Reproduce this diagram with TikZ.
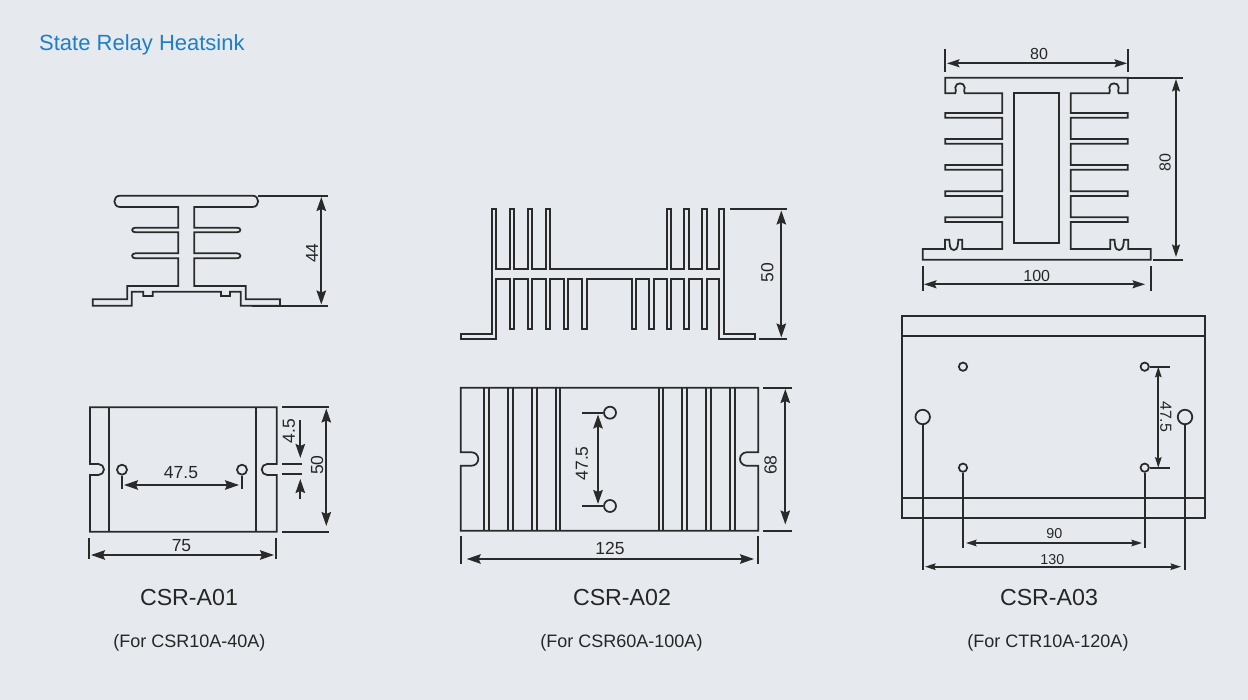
\documentclass[tikz,border=0pt]{standalone}
\usepackage{fontspec}
\setmainfont{Liberation Sans}
\usetikzlibrary{arrows.meta}
\definecolor{bgc}{HTML}{E6EAEE}
\definecolor{ink}{HTML}{2A2A2A}
\definecolor{txt}{HTML}{262626}
\definecolor{titleblue}{HTML}{1F7FC4}
\newcommand{\fsz}[1]{\fontsize{#1}{#1}\selectfont}
\tikzset{
  bighead/.tip={Stealth[length=14pt,width=9.5pt,inset=2pt]},
  midhead/.tip={Stealth[length=12.5pt,width=8pt,inset=2pt]},
  smallhead/.tip={Stealth[length=10.5pt,width=6.5pt,inset=1.5pt]},
  part/.style={draw=ink,line width=1.75pt,line join=miter},
  ext/.style={draw=ink,line width=1.75pt},
  dimline/.style={draw=ink,line width=1.75pt,bighead-bighead},
  dimmid/.style={draw=ink,line width=1.75pt,midhead-midhead},
  dimsmall/.style={draw=ink,line width=1.75pt,smallhead-smallhead},
  oneway/.style={draw=ink,line width=1.75pt,-bighead},
  dimtext/.style={text=txt,inner sep=0pt,font=\fsz{17.5}},
  smalltext/.style={text=txt,inner sep=0pt,font=\fsz{16}},
  tinytext/.style={text=txt,inner sep=0pt,font=\fsz{14.3}},
  model/.style={text=txt,inner sep=0pt,font=\fsz{23.2}},
  forlabel/.style={text=txt,inner sep=0pt,font=\fsz{18}},
}
\begin{document}
\begin{tikzpicture}[x=1pt,y=-1pt]
\fill[bgc] (0,0) rectangle (1248,700);
\useasboundingbox (0,0) rectangle (1248,700);
\node[anchor=west,inner sep=0pt,text=titleblue,font=\fsz{22}] (title) at (39,45) {State Relay Heatsink};

% ---------- CSR-A01 section
\draw[part] (178.3,207) -- (120,207) .. controls (112.5,207) and (112.5,195.7) .. (120,195.7) -- (252.5,195.7)
  .. controls (260,195.7) and (260,207) .. (252.5,207) -- (194.3,207)
  -- (194.3,227.7) -- (237,227.7) .. controls (241.5,227.7) and (241.5,232.3) .. (237,232.3) -- (194.3,232.3)
  -- (194.3,253.3) -- (237,253.3) .. controls (241.5,253.3) and (241.5,258.3) .. (237,258.3) -- (194.3,258.3)
  -- (194.3,286) -- (245.7,286) -- (245.7,299.3) -- (280,299.3) -- (280,305.7) -- (240.7,305.7) -- (240.7,291.7)
  -- (230,291.7) -- (230,296) -- (221,296) -- (221,291.7) -- (152.7,291.7) -- (152.7,296) -- (143.3,296) -- (143.3,291.7)
  -- (131.7,291.7) -- (131.7,305.7) -- (92.7,305.7) -- (92.7,299.3) -- (127.3,299.3) -- (127.3,286) -- (178.3,286)
  -- (178.3,258.3) -- (135.5,258.3) .. controls (131,258.3) and (131,253.3) .. (135.5,253.3) -- (178.3,253.3)
  -- (178.3,232.3) -- (135.5,232.3) .. controls (131,232.3) and (131,227.7) .. (135.5,227.7) -- (178.3,227.7) -- cycle;
\coordinate (a1top) at (258,195.7); \coordinate (a1topR) at (328,195.7);
\coordinate (a1bot) at (252,305.7); \coordinate (a1botR) at (328,305.7);
\coordinate (a1da) at (321.3,197); \coordinate (a1db) at (321.3,304.5);
\draw[ext] (a1top) -- (a1topR); \draw[ext] (a1bot) -- (a1botR);
\draw[dimline] (a1da) -- (a1db);
\node[dimtext,rotate=90] (t44) at (312,253) {44};

% ---------- CSR-A01 plan
\draw[part] (90,407.3) -- (276.7,407.3) -- (276.7,464) -- (267.2,464)
  .. controls (264.2,464) and (261.7,466.5) .. (261.7,469.5) .. controls (261.7,472.5) and (264.2,475) .. (267.2,475)
  -- (276.7,475) -- (276.7,531.7) -- (90,531.7) -- (90,475) -- (98.5,475)
  .. controls (101.5,475) and (104,472.5) .. (104,469.5) .. controls (104,466.5) and (101.5,464) .. (98.5,464)
  -- (90,464) -- cycle;
\draw[part] (109.3,407.3) -- (109.3,531.7) (255.7,407.3) -- (255.7,531.7);
\node[part,circle,inner sep=0pt,minimum size=10pt] (h1a) at (122,469.7) {};
\node[part,circle,inner sep=0pt,minimum size=10pt] (h1b) at (242,469.7) {};
\coordinate (h1ae) at (122,489); \coordinate (h1be) at (242,489);
\draw[ext] (h1a.south) -- (h1ae); \draw[ext] (h1b.south) -- (h1be);
\coordinate (d1a) at (124,485); \coordinate (d1b) at (239,485);
\draw[dimline] (d1a) -- (d1b);
\node[dimtext] (t475a) at (181,473) {47.5};
\draw[ext] (282.3,464) -- (301.7,464) (282.3,474.3) -- (301.7,474.3);
\coordinate (d45a) at (300.3,420); \coordinate (d45b) at (300.3,458);
\coordinate (d45c) at (300.3,499); \coordinate (d45d) at (300.3,479);
\draw[oneway] (d45a) -- (d45b); \draw[oneway] (d45c) -- (d45d);
\node[dimtext,rotate=90] (t45) at (289,431) {4.5};
\draw[ext] (282.3,407.3) -- (329,407.3) (282.3,531.7) -- (329,531.7);
\coordinate (d50a) at (326.3,408.5); \coordinate (d50b) at (326.3,526);
\draw[dimline] (d50a) -- (d50b);
\node[dimtext,rotate=90] (t50a) at (317,465) {50};
\draw[ext] (89.3,538) -- (89.3,559) (275.7,538) -- (275.7,559);
\coordinate (d75a) at (91,555); \coordinate (d75b) at (274,555);
\draw[dimline] (d75a) -- (d75b);
\node[dimtext] (t75) at (181.5,546) {75};

% ---------- CSR-A02 section
\draw[part] (491.7,209) -- (496.3,209) -- (496.3,268.7)
  -- (509.7,268.7) -- (509.7,209) -- (514.3,209) -- (514.3,268.7)
  -- (527.7,268.7) -- (527.7,209) -- (532.3,209) -- (532.3,268.7)
  -- (545.7,268.7) -- (545.7,209) -- (550.3,209) -- (550.3,268.7)
  -- (666.7,268.7) -- (666.7,209) -- (671.3,209) -- (671.3,268.7)
  -- (684.3,268.7) -- (684.3,209) -- (689,209) -- (689,268.7)
  -- (701.7,268.7) -- (701.7,209) -- (706.7,209) -- (706.7,268.7)
  -- (719.3,268.7) -- (719.3,209) -- (724.3,209) -- (724.3,334) -- (755,334) -- (755,339) -- (719.3,339) -- (719.3,279.3)
  -- (706.7,279.3) -- (706.7,329.3) -- (701.7,329.3) -- (701.7,279.3)
  -- (689,279.3) -- (689,329.3) -- (684.3,329.3) -- (684.3,279.3)
  -- (671.3,279.3) -- (671.3,329.3) -- (666.7,329.3) -- (666.7,279.3)
  -- (653.7,279.3) -- (653.7,329.3) -- (649,329.3) -- (649,279.3)
  -- (636.3,279.3) -- (636.3,329.3) -- (631.7,329.3) -- (631.7,279.3)
  -- (586.7,279.3) -- (586.7,329.3) -- (581.7,329.3) -- (581.7,279.3)
  -- (568.3,279.3) -- (568.3,329.3) -- (563.7,329.3) -- (563.7,279.3)
  -- (550.3,279.3) -- (550.3,329.3) -- (545.7,329.3) -- (545.7,279.3)
  -- (532.3,279.3) -- (532.3,329.3) -- (527.7,329.3) -- (527.7,279.3)
  -- (514.3,279.3) -- (514.3,329.3) -- (509.7,329.3) -- (509.7,279.3)
  -- (496.3,279.3) -- (496.3,339) -- (460.7,339) -- (460.7,334) -- (491.7,334) -- cycle;
\draw[ext] (730,209) -- (786.7,209) (759,339) -- (786.7,339);
\coordinate (d2a) at (781.3,210.5); \coordinate (d2b) at (781.3,337.5);
\draw[dimline] (d2a) -- (d2b);
\node[dimtext,rotate=90] (t50b) at (767.3,272.7) {50};

% ---------- CSR-A02 plan
\draw[part] (460.7,387.7) -- (758.3,387.7) -- (758.3,452.3) -- (746.7,452.3)
  .. controls (743,452.3) and (740,455.3) .. (740,459) .. controls (740,462.7) and (743,465.7) .. (746.7,465.7)
  -- (758.3,465.7) -- (758.3,530.7) -- (460.7,530.7) -- (460.7,465.7) -- (471.6,465.7)
  .. controls (475.3,465.7) and (478.3,462.7) .. (478.3,459) .. controls (478.3,455.3) and (475.3,452.3) .. (471.6,452.3)
  -- (460.7,452.3) -- cycle;
\foreach \xa/\xb in {484.3/489.3,508.3/513,532/536.7,555.7/560.3,658.7/663.3,682.3/687.3,706.3/711,730.3/735}
  \draw[part] (\xa,387.7) -- (\xa,530.7) (\xb,387.7) -- (\xb,530.7);
\node[part,circle,inner sep=0pt,minimum size=12pt] (h2a) at (610,412.7) {};
\node[part,circle,inner sep=0pt,minimum size=12pt] (h2b) at (610,506) {};
\coordinate (h2ae) at (582.3,412.7); \coordinate (h2be) at (582.3,506);
\draw[ext] (h2ae) -- (h2a.west); \draw[ext] (h2be) -- (h2b.west);
\coordinate (d3a) at (598,414.5); \coordinate (d3b) at (598,504);
\draw[dimline] (d3a) -- (d3b);
\node[dimtext,rotate=90] (t475b) at (582,463.3) {47.5};
\draw[ext] (763.3,387.7) -- (792.3,387.7) (763.3,530.7) -- (792.3,530.7);
\coordinate (d68a) at (785.3,389); \coordinate (d68b) at (785.3,524.5);
\draw[dimline] (d68a) -- (d68b);
\node[dimtext,rotate=90] (t68) at (770.7,465) {68};
\draw[ext] (460.7,536) -- (460.7,564.3) (758.3,536) -- (758.3,564.3);
\coordinate (d125a) at (466.7,559); \coordinate (d125b) at (754,559);
\draw[dimline] (d125a) -- (d125b);
\node[dimtext] (t125) at (610,548.5) {125};

% ---------- CSR-A03 section
\draw[part] (945.3,77.7) -- (1127.7,77.7) -- (1127.7,93.3) -- (1118.7,93.3)
  .. controls (1117.2,91.5) and (1118.7,90) .. (1118.7,87.5) .. controls (1118.7,82) and (1109.3,82) .. (1109.3,87.5)
  .. controls (1109.3,90) and (1110.8,91.5) .. (1109.3,93.3)
  -- (1070.7,93.3) -- (1070.7,113) -- (1127.7,113) -- (1127.7,117.7) -- (1070.7,117.7)
  -- (1070.7,139) -- (1127.7,139) -- (1127.7,143.7) -- (1070.7,143.7)
  -- (1070.7,165) -- (1127.7,165) -- (1127.7,169.7) -- (1070.7,169.7)
  -- (1070.7,191.3) -- (1127.7,191.3) -- (1127.7,196) -- (1070.7,196)
  -- (1070.7,217.3) -- (1127.7,217.3) -- (1127.7,222) -- (1070.7,222)
  -- (1070.7,249) -- (1110.3,249) -- (1110.3,239.7) -- (1114.5,239.7)
  .. controls (1115,244) and (1114.5,250) .. (1119.2,250) .. controls (1123.5,250) and (1123.5,244) .. (1123.9,239.7)
  -- (1128.3,239.7) -- (1128.3,249) -- (1150.7,249) -- (1150.7,259.7) -- (922.7,259.7) -- (922.7,249) -- (945,249)
  -- (945,239.7) -- (949.3,239.7) .. controls (949.8,244) and (949.3,250) .. (953.8,250)
  .. controls (958.3,250) and (957.8,244) .. (958.3,239.7) -- (962.3,239.7) -- (962.3,249) -- (1002.3,249)
  -- (1002.3,222) -- (945.3,222) -- (945.3,217.3) -- (1002.3,217.3)
  -- (1002.3,196) -- (945.3,196) -- (945.3,191.3) -- (1002.3,191.3)
  -- (1002.3,169.7) -- (945.3,169.7) -- (945.3,165) -- (1002.3,165)
  -- (1002.3,143.7) -- (945.3,143.7) -- (945.3,139) -- (1002.3,139)
  -- (1002.3,117.7) -- (945.3,117.7) -- (945.3,113) -- (1002.3,113)
  -- (1002.3,93.3) -- (964.7,93.3) .. controls (963.2,91.5) and (964.7,90) .. (964.7,87.5)
  .. controls (964.7,82) and (955.3,82) .. (955.3,87.5) .. controls (955.3,90) and (956.8,91.5) .. (955.3,93.3)
  -- (945.3,93.3) -- cycle;
\draw[part] (1013.7,92.7) rectangle (1059.3,243.3);
\draw[ext] (945.3,49) -- (945.3,71.7) (1127.7,49) -- (1127.7,71.7);
\coordinate (d80a) at (947,63.3); \coordinate (d80b) at (1127,63.3);
\draw[dimmid] (d80a) -- (d80b);
\node[smalltext] (t80a) at (1039,54) {80};
\draw[ext] (1128,77.7) -- (1183.3,77.7) (1153.3,259.7) -- (1183.3,259.7);
\coordinate (d80c) at (1176,79); \coordinate (d80d) at (1176,257);
\draw[dimmid] (d80c) -- (d80d);
\node[smalltext,rotate=90] (t80b) at (1165,163) {80};
\draw[ext] (922.7,266) -- (922.7,290.7) (1150.7,266) -- (1150.7,290.7);
\coordinate (d100a) at (924,284.3); \coordinate (d100b) at (1145,284.3);
\draw[dimmid] (d100a) -- (d100b);
\node[smalltext] (t100) at (1036.7,276.3) {100};

% ---------- CSR-A03 plan
\draw[part] (902.3,316) rectangle (1205.3,518.3);
\draw[part] (902.3,336.3) -- (1205.3,336.3) (902.3,498) -- (1205.3,498);
\node[part,circle,inner sep=0pt,minimum size=8.3pt] (s1) at (963,366.7) {};
\node[part,circle,inner sep=0pt,minimum size=8.3pt] (s2) at (1144.7,366.7) {};
\node[part,circle,inner sep=0pt,minimum size=8.3pt] (s3) at (963,467.7) {};
\node[part,circle,inner sep=0pt,minimum size=8.3pt] (s4) at (1144.7,467.7) {};
\node[part,circle,inner sep=0pt,minimum size=14.5pt] (b1) at (922.7,417) {};
\node[part,circle,inner sep=0pt,minimum size=14.5pt] (b2) at (1185,417) {};
\coordinate (s3e) at (963,547.7); \coordinate (s4e) at (1144.7,547.7);
\coordinate (b1e) at (922.7,570); \coordinate (b2e) at (1185,570);
\draw[ext] (s3.south) -- (s3e); \draw[ext] (s4.south) -- (s4e);
\draw[ext] (b1.south) -- (b1e); \draw[ext] (b2.south) -- (b2e);
\coordinate (d90a) at (966,543); \coordinate (d90b) at (1142,543);
\draw[dimsmall] (d90a) -- (d90b);
\node[tinytext] (t90) at (1054.3,533.5) {90};
\coordinate (d130a) at (925,566.7); \coordinate (d130b) at (1181,566.7);
\draw[dimsmall] (d130a) -- (d130b);
\node[tinytext] (t130) at (1052.3,559.5) {130};
\coordinate (s2e) at (1169.7,366.7); \coordinate (s4x) at (1169.7,467.7);
\draw[ext] (s2.east) -- (s2e); \draw[ext] (s4.east) -- (s4x);
\coordinate (d475a) at (1158.3,366.7); \coordinate (d475b) at (1158.3,467.7);
\draw[dimsmall] (d475a) -- (d475b);
\node[smalltext,rotate=-90] (t475c) at (1165.7,416.7) {47.5};

% ---------- captions
\node[model] (m1) at (189,598) {CSR-A01};
\node[model] (m2) at (622,598) {CSR-A02};
\node[model] (m3) at (1049,598) {CSR-A03};
\node[forlabel] (f1) at (189.5,642.5) {(For CSR10A-40A)};
\node[forlabel] (f2) at (621.5,642.5) {(For CSR60A-100A)};
\node[forlabel] (f3) at (1048,642.5) {(For CTR10A-120A)};
\end{tikzpicture}
\end{document}
